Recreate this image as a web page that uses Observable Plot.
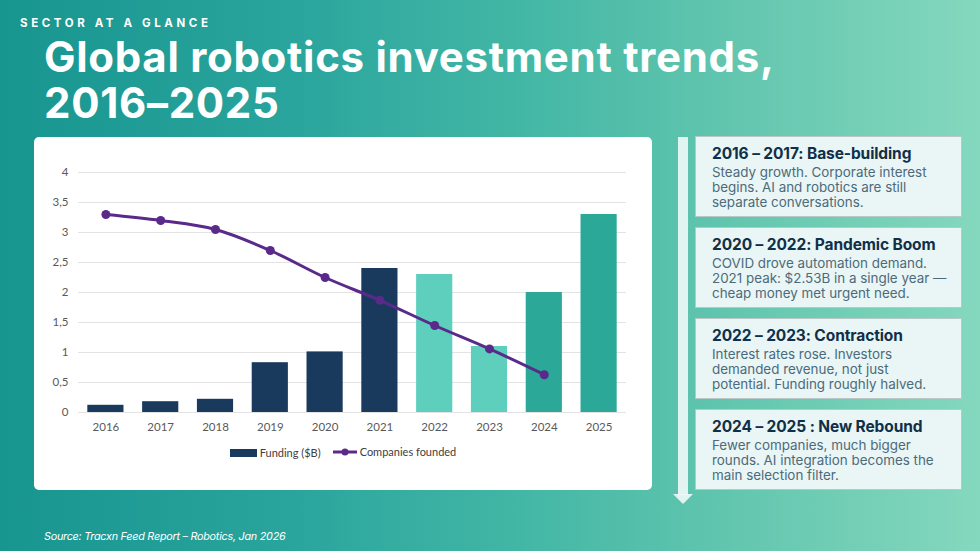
<!DOCTYPE html>
<html>
<head>
<meta charset="utf-8">
<script src="https://cdn.jsdelivr.net/npm/d3@7"></script>
<script src="https://cdn.jsdelivr.net/npm/@observablehq/plot@0.6"></script>
<style>
  html, body { margin: 0; padding: 0; }
  body {
    width: 980px; height: 551px; position: relative; overflow: hidden;
    background: linear-gradient(90deg, #17958f 0%, #2aa59d 30%, #45b8a6 55%, #63c6af 75%, #84d8bd 100%);
    font-family: Inter, "Noto Sans", sans-serif;
  }
  .kicker {
    position: absolute; left: 20px; top: 17px; color: #fff;
    font: 700 11.5px/12px Inter, sans-serif; letter-spacing: 3.6px;
  }
  .title {
    position: absolute; left: 44px; top: 34px; color: #fff;
    font: 700 42px/46px Inter, sans-serif; letter-spacing: 0.7px;
  }
  .card {
    position: absolute; left: 34px; top: 137px; width: 618px; height: 353px;
    background: #fff; border-radius: 5px;
  }
  #chart { position: absolute; left: 0; top: 0; }
  .legend {
    position: absolute; left: 0; width: 618px; top: 308px; text-align: center;
    font: 11px Lato, sans-serif; color: #404040;
  }
  .legend span { display: inline-flex; align-items: center; margin: 0 6px; }
  .legend svg { margin-right: 3px; }
  .rail {
    position: absolute; left: 678px; top: 137px; width: 10px; height: 358px;
    background: rgba(240, 250, 248, 0.9);
  }
  .arrowhead {
    position: absolute; left: 673px; top: 494px; width: 0; height: 0;
    border-left: 10px solid transparent; border-right: 10px solid transparent;
    border-top: 10px solid rgba(240, 250, 248, 0.9);
  }
  .box {
    position: absolute; left: 695px; width: 267px; height: 81px; box-sizing: border-box;
    background: #eaf5f5; border: 1.5px solid #b7c8c6; padding: 8px 0 0 16px;
  }
  .box h3 {
    margin: 0; font: 700 15.5px/18px Inter, sans-serif; color: #102f48; letter-spacing: -0.1px;
  }
  .box p {
    margin: 2px 0 0; font: 400 13.4px/15.2px Inter, sans-serif; color: #4b6b7b;
  }
  .source {
    position: absolute; left: 44px; top: 530px; color: #fff;
    font: italic 400 10.8px Inter, sans-serif; letter-spacing: -0.25px;
  }
</style>
</head>
<body>
<div class="kicker">SECTOR AT A GLANCE</div>
<div class="title">Global robotics investment trends,<br>2016–2025</div>

<div class="card">
  <div id="chart"></div>
  <div class="legend" id="legend"></div>
</div>

<div class="rail"></div>
<div class="arrowhead"></div>
<div id="notes"></div>

<div class="source">Source: Tracxn Feed Report – Robotics, Jan 2026</div>

<script>
// Years on the x axis
const years = ["2016", "2017", "2018", "2019", "2020", "2021", "2022", "2023", "2024", "2025"];
// Funding per year ($B), drawn as bars
const funding = [0.12, 0.18, 0.22, 0.83, 1.01, 2.40, 2.30, 1.10, 2.00, 3.30];
// Companies founded (index), drawn as a line; no value for 2025
const companies = [3.30, 3.20, 3.05, 2.70, 2.25, 1.87, 1.45, 1.06, 0.63, null];
// Market phase of each year, which sets the bar colour
const phase = ["build", "build", "build", "build", "build", "build", "contraction", "contraction", "rebound", "rebound"];
const phaseNames = ["build", "contraction", "rebound"];
const phaseColors = ["#193a5d", "#5dcfbc", "#2ba898"];
// Y axis ticks
const yTicks = [0, 0.5, 1, 1.5, 2, 2.5, 3, 3.5, 4];

// Timeline notes on the right
const noteTitles = [
  "2016 – 2017: Base-building",
  "2020 – 2022: Pandemic Boom",
  "2022 – 2023: Contraction",
  "2024 – 2025 : New Rebound"
];
const noteBodies = [
  ["Steady growth. Corporate interest", "begins. AI and robotics are still", "separate conversations."],
  ["COVID drove automation demand.", "2021 peak: $2.53B in a single year —", "cheap money met urgent need."],
  ["Interest rates rose. Investors", "demanded revenue, not just", "potential. Funding roughly halved."],
  ["Fewer companies, much bigger", "rounds. AI integration becomes the", "main selection filter."]
];

const rows = years.map((year, i) => ({year, funding: funding[i], companies: companies[i], phase: phase[i]}));
const lineRows = rows.filter(d => d.companies != null);
const comma = d => String(d).replace(".", ",");

const chart = Plot.plot({
  width: 618,
  height: 300,
  marginLeft: 44,
  marginRight: 26,
  marginTop: 35,
  marginBottom: 25,
  style: {fontFamily: "Lato, sans-serif", fontSize: "11.5px", color: "#595959", background: "transparent"},
  x: {domain: years, paddingInner: 0.34, paddingOuter: 0.17, round: false, label: null, tickSize: 0, tickPadding: 10},
  y: {domain: [0, 4], ticks: yTicks, tickFormat: comma, label: null, tickSize: 0, tickPadding: 10},
  color: {domain: phaseNames, range: phaseColors},
  marks: [
    Plot.gridY(yTicks, {stroke: "#e3e3e3", strokeOpacity: 1, strokeWidth: 1}),
    Plot.barY(rows, {x: "year", y: "funding", fill: "phase"}),
    Plot.line(lineRows, {x: "year", y: "companies", stroke: "#5a2a8b", strokeWidth: 3, curve: "catmull-rom"}),
    Plot.dot(lineRows, {x: "year", y: "companies", fill: "#5a2a8b", r: 4.5})
  ]
});
document.getElementById("chart").append(chart);

// Legend under the chart
document.getElementById("legend").innerHTML =
  `<span><svg width="27" height="8"><rect width="27" height="8" fill="${phaseColors[0]}"/></svg>Funding ($B)</span>` +
  `<span><svg width="24" height="10"><line x1="0" y1="5" x2="24" y2="5" stroke="#5a2a8b" stroke-width="3"/><circle cx="12" cy="5" r="3.5" fill="#5a2a8b"/></svg>Companies founded</span>`;

// Note boxes
const notes = document.getElementById("notes");
const boxTops = [136, 227, 318, 409];
noteTitles.forEach((t, i) => {
  const box = document.createElement("div");
  box.className = "box";
  box.style.top = boxTops[i] + "px";
  box.innerHTML = `<h3>${t}</h3><p>${noteBodies[i].join("<br>")}</p>`;
  notes.append(box);
});
</script>
</body>
</html>
